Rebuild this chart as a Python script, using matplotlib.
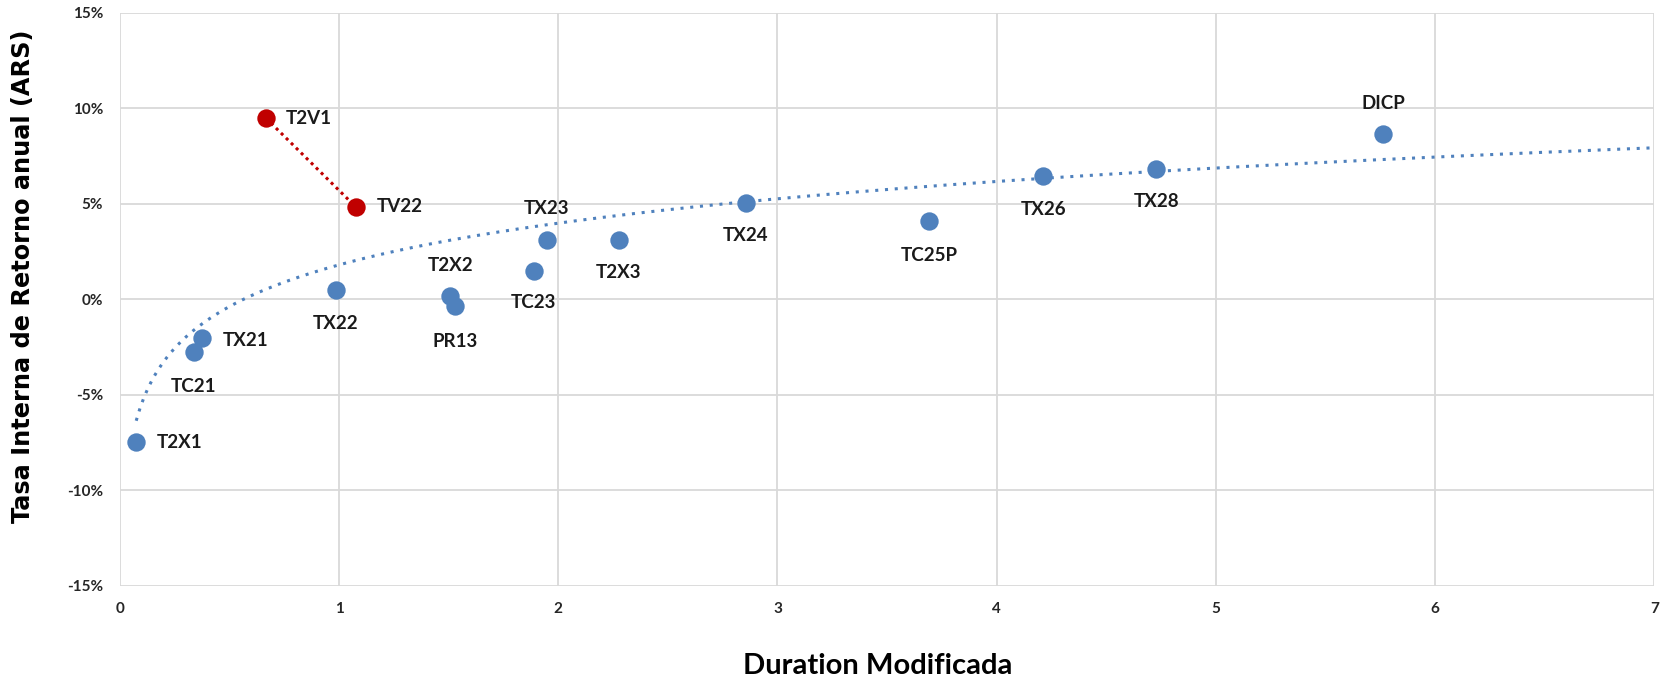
import numpy as np
import matplotlib
matplotlib.use("Agg")
import matplotlib.pyplot as plt
from matplotlib.ticker import FuncFormatter

# ---- data ----
blue_names = ["T2X1", "TC21", "TX21", "TX22", "T2X2", "PR13", "TC23", "TX23",
              "T2X3", "TX24", "TC25P", "TX26", "TX28", "DICP"]
blue_dur = [0.072, 0.338, 0.377, 0.986, 1.507, 1.531, 1.889, 1.947,
            2.275, 2.855, 3.691, 4.213, 4.729, 5.763]
blue_tir = [-7.49, -2.77, -2.05, 0.50, 0.17, -0.33, 1.50, 3.11,
            3.11, 5.05, 4.10, 6.43, 6.82, 8.65]

red_names = ["T2V1", "TV22"]
red_dur = [0.667, 1.077]
red_tir = [9.48, 4.83]

# logarithmic trendline (y = a*ln(x) + b, in %) as shown in the chart
trend_a = 3.15
trend_b = 1.80
trend_x_range = [0.075, 7.0]

x_ticks = [0, 1, 2, 3, 4, 5, 6, 7]
y_ticks = [-15, -10, -5, 0, 5, 10, 15]

# ---- label placement (style) ----
label_pos = {
    "T2X1": ("r", 21, 0), "TC21": ("c", 0, -34), "TX21": ("r", 20, -2),
    "TX22": ("c", 0, -34), "T2X2": ("c", 0, 31), "PR13": ("c", 0, -36),
    "TC23": ("c", 0, -32), "TX23": ("c", 0, 31), "T2X3": ("c", 0, -33),
    "TX24": ("c", 0, -33), "TC25P": ("c", 0, -35), "TX26": ("c", 0, -33),
    "TX28": ("c", 0, -33), "DICP": ("c", 0, 31), "T2V1": ("r", 20, 0),
    "TV22": ("r", 21, 0),
}

BLUE = "#4F81BD"
RED = "#C00000"
GRID = "#D9D9D9"
LABEL_FONT = ["Lato", "DejaVu Sans"]

fig = plt.figure(figsize=(16.61, 6.80), dpi=100)
ax = fig.add_axes([0.0721, 0.1385, 0.9239, 0.8428])

ax.set_xlim(0, 7)
ax.set_ylim(-15, 15)
ax.set_xticks(x_ticks)
ax.set_yticks(y_ticks)
ax.grid(True, color=GRID, linewidth=1.3)
ax.set_axisbelow(True)
for s in ax.spines.values():
    s.set_visible(False)
ax.tick_params(length=0, pad=12)
ax.yaxis.set_major_formatter(FuncFormatter(lambda v, p: f"{int(v)}%"))
for lab in ax.get_xticklabels() + ax.get_yticklabels():
    lab.set_fontfamily(LABEL_FONT)
    lab.set_fontweight("bold")
    lab.set_fontsize(11)
    lab.set_color("#262626")

# trendline
tx = np.linspace(trend_x_range[0], trend_x_range[1], 400)
ty = trend_a * np.log(tx) + trend_b
ax.plot(tx, ty, linestyle=(0, (1, 2.2)), color=BLUE, linewidth=2.2, zorder=2)

# red connected pair
ax.plot(red_dur, red_tir, linestyle=(0, (1, 1.3)), color=RED, linewidth=2.2, zorder=2)

ax.scatter(blue_dur, blue_tir, s=175, color=BLUE, zorder=3, linewidths=0)
ax.scatter(red_dur, red_tir, s=175, color=RED, zorder=3, linewidths=0)

for names, xs, ys in [(blue_names, blue_dur, blue_tir), (red_names, red_dur, red_tir)]:
    for n, x, y in zip(names, xs, ys):
        mode, dx, dy = label_pos[n]
        ax.annotate(n, (x, y), xytext=(dx, dy), textcoords="offset pixels",
                    ha="left" if mode == "r" else "center", va="center",
                    fontsize=13.5, fontweight="bold", family=LABEL_FONT,
                    color="#1a1a1a", zorder=4)

ax.set_xlabel("Duration Modificada", fontsize=21, fontweight="bold",
              family=LABEL_FONT, color="black")
ax.xaxis.set_label_coords(0.494, -0.117)
ax.set_ylabel("Tasa Interna de Retorno anual (ARS)", fontsize=17.3, fontweight="bold",
              family=["DejaVu Sans"], color="black")
ax.yaxis.set_label_coords(-0.055, 0.54)

fig.savefig("out.png", dpi=100, facecolor="white")
